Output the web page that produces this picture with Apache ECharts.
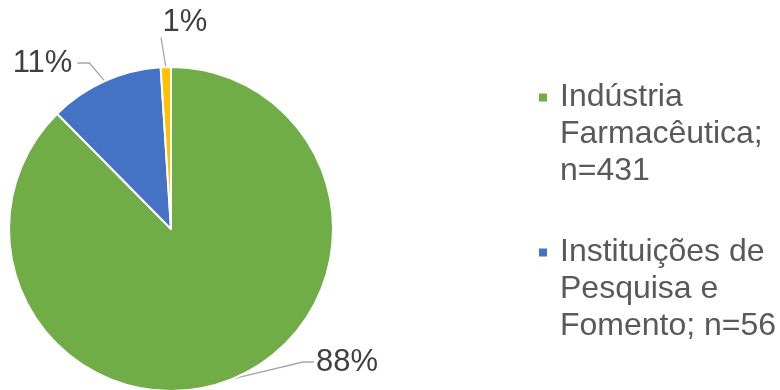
<!DOCTYPE html>
<html>
<head>
<meta charset="utf-8">
<script src="https://cdn.jsdelivr.net/npm/echarts@6/dist/echarts.min.js"></script>
<style>
  html, body { margin: 0; padding: 0; background: #ffffff; }
  #chart { width: 780px; height: 390px; }
</style>
</head>
<body>
<div id="chart"></div>
<script>
// Participants by type of institution
const categories = ['Indústria Farmacêutica', 'Instituições de Pesquisa e Fomento', 'Outros'];
const counts = [431, 56, 5];
const sliceColors = ['#70AD47', '#4472C4', '#FFC000'];
const legendNames = categories.slice(0, 2);

const FONT = '"Liberation Sans", Arial, sans-serif';
const LEGEND_FONT_SIZE = 32;
const LEGEND_WRAP_WIDTH = 226;

// Where each percentage label sits and how its leader line bends
const labelPlacement = [
  { x: 346, y: 362, padding: [0, 0, 22, 2], length2: 11, lineHeight: 36 },
  { x: 45, y: 63, padding: [0, 5, 16, 0], length2: 12, lineHeight: 36 },
  { x: 161, y: 22, padding: [0, 0, 0, 48], length2: 0, lineHeight: 28 }
];

const countOf = {};
categories.forEach((c, i) => { countOf[c] = counts[i]; });

// Word-wrap a legend entry, then pad it with blank lines above so that
// the first line sits level with the legend swatch.
const measureCtx = document.createElement('canvas').getContext('2d');
measureCtx.font = LEGEND_FONT_SIZE + 'px ' + FONT;
function wrapLegend(text) {
  const words = text.split(' ');
  const lines = [];
  let cur = '';
  words.forEach(w => {
    const trial = cur ? cur + ' ' + w : w;
    if (cur && measureCtx.measureText(trial).width > LEGEND_WRAP_WIDTH) {
      lines.push(cur);
      cur = w;
    } else {
      cur = trial;
    }
  });
  if (cur) lines.push(cur);
  const pad = new Array(lines.length - 1).fill('');
  return pad.concat(lines).join('\n');
}

const pieData = categories.map((name, i) => ({
  name: name,
  value: counts[i],
  itemStyle: { color: sliceColors[i] },
  label: { padding: labelPlacement[i].padding, lineHeight: labelPlacement[i].lineHeight },
  labelLine: { length2: labelPlacement[i].length2 }
}));

const chart = echarts.init(document.getElementById('chart'), null, { renderer: 'canvas' });

chart.setOption({
  animation: false,
  backgroundColor: '#ffffff',
  legend: {
    data: legendNames,
    orient: 'vertical',
    left: 537,
    top: 5,
    padding: 0,
    itemGap: -30,
    itemWidth: 10,
    itemHeight: 10,
    icon: 'rect',
    formatter: name => wrapLegend(name + '; n=' + countOf[name]),
    textStyle: {
      fontFamily: FONT,
      fontSize: LEGEND_FONT_SIZE,
      color: '#595959',
      lineHeight: 37,
      padding: [0, 0, 0, 7]
    }
  },
  series: [{
    type: 'pie',
    center: [171, 229],
    radius: 162,
    startAngle: 90,
    clockwise: true,
    avoidLabelOverlap: false,
    itemStyle: { borderColor: '#ffffff', borderWidth: 2 },
    label: {
      show: true,
      position: 'outside',
      fontFamily: FONT,
      fontSize: 31,
      color: '#404040',
      formatter: p => Math.round(p.percent) + '%'
    },
    labelLine: {
      show: true,
      length: 12,
      lineStyle: { color: '#A6A6A6', width: 1.3 }
    },
    labelLayout: params => {
      const p = labelPlacement[params.dataIndex];
      return { x: p.x, y: p.y, align: 'center', verticalAlign: 'middle' };
    },
    emphasis: { disabled: true },
    data: pieData
  }]
});
</script>
</body>
</html>
